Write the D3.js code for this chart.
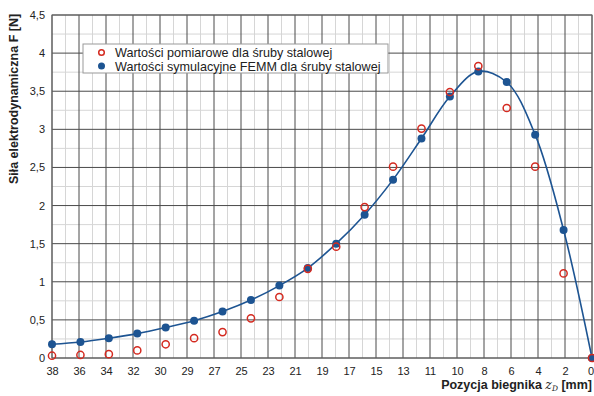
<!DOCTYPE html>
<html><head><meta charset="utf-8">
<script src="https://cdn.jsdelivr.net/npm/d3@7"></script>
<style>body{margin:0;background:#fff}svg{display:block}text{font-family:"Liberation Sans",Arial,sans-serif}</style>
</head><body><svg id="c" width="594" height="396"></svg>
<script>
const positions = [38,36,34,32,30,28,26,24,22,20,18,16,14,12,10,8,6,4,2,0];
const simulated = [0.18,0.21,0.26,0.32,0.40,0.49,0.61,0.76,0.95,1.18,1.50,1.88,2.34,2.88,3.43,3.76,3.62,2.93,1.68,0.00];
const measured  = [0.03,0.04,0.05,0.10,0.18,0.26,0.34,0.52,0.80,1.17,1.46,1.98,2.51,3.01,3.49,3.83,3.28,2.51,1.11,0.00];
const xTickLabels = ["38","36","34","32","30","29","27","25","23","21","19","17","15","13","11","10","8","6","4","2","0"];
const yTickLabels = ["0","0,5","1","1,5","2","2,5","3","3,5","4","4,5"];
const seriesNames = ["Wartości pomiarowe dla śruby stalowej","Wartości symulacyjne FEMM dla śruby stalowej"];

const svg = d3.select("#c");
const L = 52, R = 592, T = 15, B = 358;
const x = d3.scaleLinear().domain([38,0]).range([L,R]);
const y = d3.scaleLinear().domain([0,4.5]).range([B,T]);
const blue = "#1d5492", red = "#d42a20";

const step = 38/(xTickLabels.length-1);
const xMajor = xTickLabels.map((_,i)=>38 - i*step);
const xMinor = xMajor.slice(0,-1).map(v=>v - step/2);
const yMajor = yTickLabels.map((_,i)=>i*0.5);
const yMinor = yMajor.slice(0,-1).map(v=>v+0.25);

const g = svg.append("g");
g.selectAll(".xm").data(xMinor).enter().append("line")
 .attr("x1",d=>x(d)).attr("x2",d=>x(d)).attr("y1",T).attr("y2",B).attr("stroke","#d6d6d6").attr("stroke-width",1);
g.selectAll(".ym").data(yMinor).enter().append("line")
 .attr("x1",L).attr("x2",R).attr("y1",d=>y(d)).attr("y2",d=>y(d)).attr("stroke","#d6d6d6").attr("stroke-width",1);
g.selectAll(".xM").data(xMajor).enter().append("line")
 .attr("x1",d=>x(d)).attr("x2",d=>x(d)).attr("y1",T).attr("y2",B).attr("stroke","#4a4a4a").attr("stroke-width",1);
g.selectAll(".yM").data(yMajor).enter().append("line")
 .attr("x1",L).attr("x2",R).attr("y1",d=>y(d)).attr("y2",d=>y(d)).attr("stroke","#4a4a4a").attr("stroke-width",1);
g.append("rect").attr("x",L).attr("y",T).attr("width",R-L).attr("height",B-T).attr("fill","none").attr("stroke","#666");

// axes labels
const xAxis = d3.axisBottom(x).tickValues(xMajor).tickFormat((d,i)=>xTickLabels[i]).tickSize(0).tickPadding(9);
const xa = svg.append("g").attr("transform",`translate(0,${B})`).call(xAxis);
xa.select(".domain").remove();
xa.selectAll("text").attr("font-size",11).attr("fill","#222").attr("font-family","Liberation Sans, Arial, sans-serif");
xa.selectAll(".tick:last-of-type text").attr("dx",-1.5);
const yAxis = d3.axisLeft(y).tickValues(yMajor).tickFormat((d,i)=>yTickLabels[i]).tickSize(0).tickPadding(7);
const ya = svg.append("g").attr("transform",`translate(${L},0)`).call(yAxis);
ya.select(".domain").remove();
ya.selectAll("text").attr("font-size",11).attr("fill","#222").attr("font-family","Liberation Sans, Arial, sans-serif");

// line
const pts = positions.map((p,i)=>[p,simulated[i]]);
svg.append("path").datum(pts)
 .attr("d",d3.line().x(d=>x(d[0])).y(d=>y(d[1])).curve(d3.curveCatmullRom.alpha(0.5)))
 .attr("fill","none").attr("stroke",blue).attr("stroke-width",1.6);
svg.selectAll(".sim").data(pts).enter().append("circle")
 .attr("cx",d=>x(d[0])).attr("cy",d=>y(d[1])).attr("r",4).attr("fill",blue);
svg.selectAll(".meas").data(positions.map((p,i)=>[p,measured[i]])).enter().append("circle")
 .attr("cx",d=>x(d[0])).attr("cy",d=>y(d[1])).attr("r",3.6).attr("fill","none").attr("stroke",red).attr("stroke-width",1.5);

// legend
const lg = svg.append("g");
lg.append("rect").attr("x",83).attr("y",44).attr("width",305).attr("height",29).attr("fill","#fff").attr("stroke","#999");
lg.append("circle").attr("cx",101.5).attr("cy",52.5).attr("r",2.8).attr("fill","none").attr("stroke",red).attr("stroke-width",1.5);
lg.append("circle").attr("cx",101.5).attr("cy",66).attr("r",3.5).attr("fill",blue);
lg.append("text").attr("x",115).attr("y",57).attr("font-size",12.6).attr("fill","#222").text(seriesNames[0]);
lg.append("text").attr("x",115).attr("y",70.5).attr("font-size",12.6).attr("fill","#222").text(seriesNames[1]);

// axis titles
svg.append("text").attr("transform","translate(18,99) rotate(-90)").attr("text-anchor","middle")
 .attr("font-size",12.5).attr("font-weight","bold").attr("fill","#222").text("Siła elektrodynamiczna F [N]");
const xt = svg.append("text").attr("x",592).attr("y",389).attr("text-anchor","end")
 .attr("font-size",12.5).attr("font-weight","bold").attr("fill","#222");
xt.append("tspan").text("Pozycja biegnika ");
xt.append("tspan").attr("font-style","italic").attr("font-weight","normal").attr("font-family","DejaVu Serif, serif").text("z");
xt.append("tspan").attr("font-size",7.5).attr("dy",2).attr("font-weight","normal").attr("font-style","italic").attr("font-family","DejaVu Serif, serif").text("D");
xt.append("tspan").attr("dy",-2).text(" [mm]");
</script></body></html>
